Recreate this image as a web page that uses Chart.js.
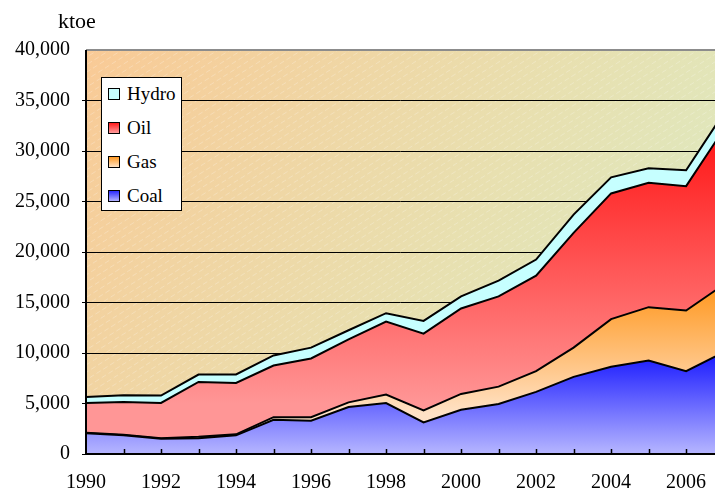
<!DOCTYPE html>
<html>
<head>
<meta charset="utf-8">
<script src="https://cdn.jsdelivr.net/npm/chart.js@4/dist/chart.umd.min.js"></script>
<style>
  html, body { margin: 0; padding: 0; background: #fff; }
  #wrap { position: relative; width: 715px; height: 491px; }
  #legend {
    position: absolute; left: 101px; top: 77px; width: 79px; height: 132px;
    background: #fff; border: 1px solid #000;
    font-family: "Liberation Serif", serif; font-size: 19px; color: #000;
  }
  #legend .item { position: absolute; left: 6px; height: 20px; line-height: 20px; }
  #legend .sw {
    display: inline-block; width: 10px; height: 10px; border: 1px solid #000;
    vertical-align: middle; margin-right: 7px; position: relative; top: -2px;
  }
</style>
</head>
<body>
<div id="wrap">
  <canvas id="chart" width="715" height="491"></canvas>
  <div id="legend"></div>
</div>
<script>
  // dados (ktoe)
  const years = [1990, 1991, 1992, 1993, 1994, 1995, 1996, 1997, 1998, 1999, 2000, 2001, 2002, 2003, 2004, 2005, 2006, 2007];
  const coal  = [2050, 1850, 1520, 1560, 1850, 3390, 3290, 4650, 5050, 3120, 4380, 4950, 6150, 7640, 8630, 9260, 8200, 10060];
  const gas   = [50, 50, 50, 140, 100, 260, 360, 460, 830, 1190, 1570, 1720, 2050, 2890, 4720, 5280, 6010, 6700];
  const oil   = [2950, 3250, 3480, 5440, 5090, 5110, 5810, 6240, 7240, 7610, 8460, 8940, 9460, 11370, 12450, 12320, 12310, 15380];
  const hydro = [600, 660, 730, 730, 830, 1000, 1070, 900, 820, 1260, 1190, 1550, 1590, 1800, 1590, 1430, 1570, 1600];
  const seriesNames = ['Coal', 'Gas', 'Oil', 'Hydro'];
  const yTicks = [0, 5000, 10000, 15000, 20000, 25000, 30000, 35000, 40000];
  const xLabelYears = [1990, 1992, 1994, 1996, 1998, 2000, 2002, 2004, 2006];
  const unitLabel = 'ktoe';

  const FONT = '"Liberation Serif", "Times New Roman", serif';

  function pts(arr) {
    return years.map((x, i) => ({ x: x, y: arr[i] }));
  }

  // gradiente vertical preso à escala y
  function vGrad(topVal, topColor, bottomVal, bottomColor) {
    return function(context) {
      const chart = context.chart;
      if (!chart.chartArea) return topColor;
      const ys = chart.scales.y;
      const g = chart.ctx.createLinearGradient(0, ys.getPixelForValue(topVal), 0, ys.getPixelForValue(bottomVal));
      g.addColorStop(0, topColor);
      g.addColorStop(1, bottomColor);
      return g;
    };
  }

  const swatch = {
    Coal: 'linear-gradient(#2a2aff, #b4b4ff)',
    Gas: 'linear-gradient(#ff9a24, #ffe2c4)',
    Oil: 'linear-gradient(#ff1c1c, #ff9c9c)',
    Hydro: '#c6ffff'
  };

  const plotBackground = {
    id: 'plotBackground',
    beforeDraw(chart) {
      const { ctx, chartArea: a } = chart;
      ctx.save();
      const g = ctx.createLinearGradient(a.left, a.top, a.right, a.bottom);
      g.addColorStop(0, '#f9ca96');
      g.addColorStop(0.55, '#e8e0b0');
      g.addColorStop(1, '#d9edc6');
      ctx.fillStyle = g;
      ctx.fillRect(a.left, a.top, a.right - a.left, a.bottom - a.top);
      // hachura diagonal clarinha
      ctx.beginPath();
      ctx.rect(a.left, a.top, a.right - a.left, a.bottom - a.top);
      ctx.clip();
      ctx.strokeStyle = 'rgba(255,255,255,0.35)';
      ctx.lineWidth = 0.7;
      ctx.setLineDash([5, 3]);
      const h = a.bottom - a.top;
      for (let s = a.left - h * 1.6; s < a.right; s += 12) {
        ctx.beginPath();
        ctx.moveTo(s, a.bottom);
        ctx.lineTo(s + h * 1.6, a.top);
        ctx.stroke();
      }
      ctx.restore();
    }
  };

  const axesOverlay = {
    id: 'axesOverlay',
    afterDatasetsDraw(chart) {
      const { ctx, chartArea: a } = chart;
      const xs = chart.scales.x;
      ctx.save();
      // borda superior
      ctx.strokeStyle = '#8c8c8c';
      ctx.lineWidth = 2;
      ctx.beginPath();
      ctx.moveTo(a.left, a.top);
      ctx.lineTo(a.right, a.top);
      ctx.stroke();
      // eixos
      ctx.strokeStyle = '#000';
      ctx.beginPath();
      ctx.moveTo(a.left, a.top);
      ctx.lineTo(a.left, a.bottom);
      ctx.lineTo(a.right, a.bottom);
      ctx.stroke();
      // marcas para dentro em cada ano
      ctx.lineWidth = 1.5;
      years.forEach(function(yr) {
        const px = Math.round(xs.getPixelForValue(yr)) + 0.5;
        if (px <= a.left + 1 || px > a.right) return;
        ctx.beginPath();
        ctx.moveTo(px, a.bottom);
        ctx.lineTo(px, a.bottom - 5);
        ctx.stroke();
      });
      ctx.restore();
    },
    afterDraw(chart) {
      const ctx = chart.ctx;
      ctx.save();
      ctx.fillStyle = '#000';
      ctx.font = '22px ' + FONT;
      ctx.textBaseline = 'alphabetic';
      ctx.fillText(unitLabel, 58, 28);
      ctx.restore();
    }
  };

  document.addEventListener('DOMContentLoaded', function() {
    const ctx = document.getElementById('chart').getContext('2d');

    const chart = new Chart(ctx, {
      type: 'line',
      data: {
        datasets: [
          {
            label: seriesNames[0],
            data: pts(coal),
            fill: 'origin',
            backgroundColor: vGrad(10000, '#1818ff', 0, '#b6b6ff'),
            borderColor: '#000',
            borderWidth: 2
          },
          {
            label: seriesNames[1],
            data: pts(gas),
            fill: '-1',
            backgroundColor: vGrad(16500, '#ff9820', 4000, '#ffe2c6'),
            borderColor: '#000',
            borderWidth: 2
          },
          {
            label: seriesNames[2],
            data: pts(oil),
            fill: '-1',
            backgroundColor: vGrad(31000, '#ff1a1a', 5000, '#ff9696'),
            borderColor: '#000',
            borderWidth: 2
          },
          {
            label: seriesNames[3],
            data: pts(hydro),
            fill: '-1',
            backgroundColor: '#c6ffff',
            borderColor: '#000',
            borderWidth: 2
          }
        ]
      },
      options: {
        responsive: false,
        animation: false,
        layout: { padding: { top: 50, left: 0, right: 0, bottom: 0 } },
        elements: {
          point: { radius: 0, hoverRadius: 0 },
          line: { tension: 0, borderJoinStyle: 'miter' }
        },
        scales: {
          x: {
            type: 'linear',
            min: 1990,
            max: 2006.77,
            border: { display: false },
            grid: { display: false },
            afterBuildTicks: function(scale) {
              scale.ticks = xLabelYears.map(v => ({ value: v }));
            },
            afterFit: function(scale) {
              scale.height = 37;
              scale.paddingLeft = 0;
              scale.paddingRight = 0;
            },
            ticks: {
              autoSkip: false,
              maxRotation: 0,
              padding: 9,
              color: '#000',
              font: { family: FONT, size: 20 },
              callback: function(v) { return String(v); }
            }
          },
          y: {
            stacked: true,
            min: 0,
            max: 40000,
            border: { display: false },
            afterBuildTicks: function(scale) {
              scale.ticks = yTicks.map(v => ({ value: v }));
            },
            afterFit: function(scale) { scale.width = 86; },
            grid: {
              color: function(c) { return c.tick && c.tick.value === 40000 ? 'rgba(0,0,0,0)' : '#000'; },
              lineWidth: 1,
              tickLength: 4,
              drawTicks: true
            },
            ticks: {
              padding: 12,
              color: '#000',
              font: { family: FONT, size: 20 },
              callback: function(v) { return v.toLocaleString('en-US'); }
            }
          }
        },
        plugins: {
          legend: { display: false },
          tooltip: { enabled: false }
        }
      },
      plugins: [plotBackground, axesOverlay]
    });

    // legenda dentro da área do gráfico, ordem invertida
    const leg = document.getElementById('legend');
    chart.data.datasets.slice().reverse().forEach(function(ds, i) {
      const item = document.createElement('div');
      item.className = 'item';
      item.style.top = (6 + i * 34) + 'px';
      const sw = document.createElement('span');
      sw.className = 'sw';
      sw.style.background = swatch[ds.label];
      item.appendChild(sw);
      item.appendChild(document.createTextNode(ds.label));
      leg.appendChild(item);
    });
  });
</script>
</body>
</html>
